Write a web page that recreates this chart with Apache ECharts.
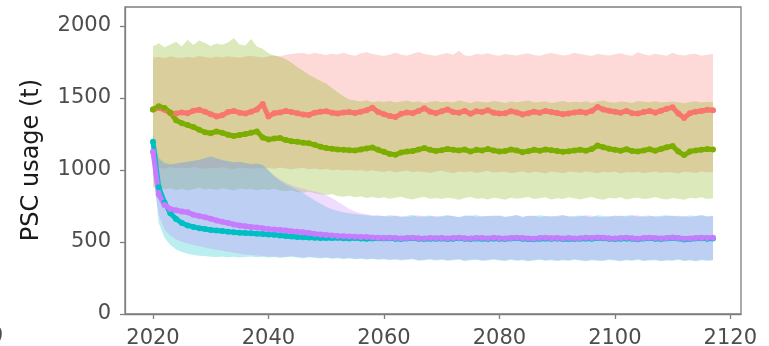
<!DOCTYPE html>
<html>
<head>
<meta charset="utf-8">
<script src="https://cdn.jsdelivr.net/npm/echarts@6/dist/echarts.min.js"></script>
<style>
  html, body { margin: 0; padding: 0; background: #fff; }
  #chart { width: 769px; height: 346px; }
</style>
</head>
<body>
<div id="chart"></div>
<script>
// Simulated PSC usage (t) per year, 2020–2117: mean trajectories and uncertainty bands
const firstYear = 2020;
const nYears = 98;
const years = Array.from({ length: nYears }, (_, i) => firstYear + i);

const xTicks = [2020, 2040, 2060, 2080, 2100, 2120];
const yTicks = [0, 500, 1000, 1500, 2000];

const colors = ['#F8766D', '#7CAE00', '#00BFC4', '#C77CFF'];

const redMean = [
  1420,1432,1418,1395,1392,1400,1395,1412,1418,1405,
  1388,1372,1380,1402,1410,1398,1392,1405,1420,1458,
  1372,1395,1400,1410,1402,1395,1385,1382,1398,1405,
  1408,1398,1392,1400,1402,1396,1405,1415,1432,1402,
  1388,1375,1368,1390,1400,1395,1410,1428,1405,1395,
  1408,1420,1402,1398,1410,1390,1408,1402,1415,1398,
  1392,1395,1408,1400,1386,1395,1405,1398,1410,1402,
  1396,1388,1392,1400,1405,1398,1410,1438,1420,1412,
  1405,1398,1410,1395,1392,1402,1410,1398,1412,1425,
  1435,1392,1362,1395,1405,1410,1418,1415
];
const redUpper = [
  1780,1785,1776,1790,1782,1778,1786,1780,1792,1784,
  1778,1788,1782,1790,1784,1780,1788,1794,1786,1780,
  1790,1796,1788,1800,1806,1810,1812,1802,1814,1806,
  1798,1808,1802,1814,1800,1794,1810,1818,1806,1798,
  1792,1802,1814,1800,1796,1808,1820,1806,1798,1794,
  1804,1812,1800,1828,1796,1792,1808,1802,1810,1798,
  1794,1806,1800,1796,1803,1810,1798,1794,1806,1812,
  1804,1796,1800,1814,1806,1798,1792,1808,1800,1796,
  1804,1810,1798,1794,1818,1804,1796,1808,1800,1794,
  1814,1800,1796,1803,1808,1794,1800,1806
];
const redLower = [
  1010,1015,1008,1020,1012,1018,1010,1022,1014,1008,
  1016,1010,1020,1012,1006,1018,1012,1008,1016,1010,
  1014,1008,1018,1010,1004,1012,1016,1006,1010,1002,
  1008,998,1004,996,1002,994,1000,990,998,992,
  986,994,982,990,996,984,992,986,980,990,
  994,986,978,990,984,992,980,988,994,982,
  986,990,978,984,992,980,988,984,976,990,
  984,978,990,986,980,992,984,978,988,982,
  990,976,986,982,988,978,984,990,980,986,
  982,976,988,984,980,990,984,986
];

const greenMean = [
  1420,1442,1430,1400,1345,1325,1312,1298,1280,1262,
  1255,1268,1258,1245,1236,1243,1250,1258,1268,1225,
  1212,1218,1222,1208,1200,1196,1190,1186,1175,1162,
  1152,1148,1142,1140,1138,1135,1142,1150,1156,1140,
  1126,1112,1106,1122,1128,1132,1142,1152,1140,1132,
  1138,1146,1140,1135,1142,1128,1140,1136,1145,1136,
  1128,1132,1142,1136,1124,1130,1140,1134,1142,1138,
  1132,1126,1130,1136,1140,1134,1145,1170,1158,1148,
  1140,1134,1144,1132,1128,1136,1144,1134,1146,1158,
  1166,1128,1104,1128,1136,1140,1145,1142
];
const greenUpper = [
  1860,1880,1852,1872,1890,1858,1905,1868,1900,1882,
  1862,1878,1870,1885,1915,1872,1864,1910,1858,1842,
  1810,1795,1786,1770,1745,1715,1690,1662,1640,1618,
  1600,1570,1540,1512,1490,1482,1476,1484,1470,1478,
  1472,1480,1468,1475,1482,1470,1478,1466,1474,1480,
  1470,1476,1468,1482,1474,1466,1478,1472,1468,1480,
  1474,1466,1478,1470,1476,1482,1468,1472,1478,1466,
  1472,1480,1468,1474,1470,1478,1466,1476,1482,1470,
  1468,1476,1472,1466,1480,1474,1470,1478,1468,1472,
  1476,1470,1464,1472,1478,1468,1474,1470
];
const greenLower = [
  880,872,866,874,862,870,858,868,876,864,
  870,862,874,866,858,872,864,870,860,868,
  862,870,858,852,860,848,842,850,838,832,
  826,834,820,815,822,810,818,806,812,804,
  810,800,808,814,802,796,808,812,800,806,
  798,808,802,794,806,812,800,804,796,808,
  802,794,808,800,806,812,798,804,810,796,
  804,798,810,802,796,806,812,800,794,808,
  802,810,796,804,808,798,802,812,800,796,
  806,800,794,808,802,810,798,804
];

const cyanMean = [
  1196,880,775,700,660,632,615,605,596,590,
  583,580,576,572,568,565,562,560,558,555,
  552,550,546,542,538,535,533,531,530,528,
  528,527,530,526,524,527,525,522,524,526,
  524,526,523,521,524,526,522,520,523,522,
  524,521,523,526,522,520,524,523,521,525,
  522,520,524,526,523,521,519,523,525,522,
  524,521,523,520,522,525,523,528,526,522,
  520,523,525,522,519,524,526,523,521,524,
  528,524,518,521,524,526,523,525
];
const cyanUpper = [
  1240,1085,1050,1040,1046,1052,1058,1064,1072,1084,
  1095,1082,1070,1062,1054,1058,1048,1042,1046,1036,
  1000,955,925,900,880,860,840,815,790,765,
  745,728,715,706,700,695,690,686,680,684,
  678,686,680,674,682,688,676,680,684,672,
  680,686,678,674,684,680,688,676,682,678,
  684,676,680,688,674,682,678,686,680,676,
  682,688,676,680,684,678,672,686,680,676,
  684,678,682,688,676,680,684,674,682,686,
  678,682,676,684,680,688,678,682
];
const cyanLower = [
  1010,630,530,480,448,430,418,410,405,402,
  398,396,400,394,398,392,396,400,394,398,
  392,396,390,394,398,392,388,394,390,386,
  390,384,388,382,386,380,384,378,382,376,
  380,374,378,372,376,380,370,374,378,372,
  376,370,374,378,368,374,376,370,372,378,
  372,368,376,370,374,366,372,376,370,374,
  368,374,370,376,372,366,374,370,368,376,
  372,366,374,370,376,368,372,374,366,372,
  370,376,368,372,366,374,370,372
];

const purpleMean = [
  1127,830,757,730,720,712,706,690,680,672,
  662,650,640,632,622,615,610,604,600,596,
  590,586,584,580,575,572,568,562,556,552,
  548,545,542,540,538,536,535,534,532,530,
  528,530,527,525,528,530,526,524,527,526,
  528,525,527,530,526,524,528,527,525,529,
  526,524,528,530,527,525,523,527,529,526,
  528,525,527,524,526,529,527,532,530,526,
  524,527,529,526,523,528,530,527,525,528,
  532,528,522,525,528,530,527,529
];
const purpleUpper = [
  1200,1070,1040,1035,1042,1050,1055,1062,1068,1078,
  1090,1078,1066,1058,1050,1055,1045,1038,1042,1032,
  995,962,935,912,895,880,870,860,850,840,
  825,805,780,755,730,712,700,692,686,682,
  680,676,684,678,672,680,686,674,678,682,
  676,684,680,672,678,686,674,680,678,684,
  680,674,678,686,676,680,684,672,678,682,
  676,684,680,674,678,686,682,676,672,680,
  678,684,676,680,686,674,678,682,676,680,
  684,676,680,672,678,684,676,680
];
const purpleLower = [
  960,690,585,545,518,502,490,480,470,462,
  454,446,440,432,426,420,414,410,406,402,
  398,400,394,398,402,396,392,398,394,390,
  394,388,392,386,390,384,388,382,386,380,
  384,378,382,376,380,384,374,378,382,376,
  380,374,378,382,372,378,380,374,376,382,
  376,372,380,374,378,370,376,380,374,378,
  372,378,374,380,376,370,378,374,372,380,
  376,370,378,374,380,372,376,378,370,376,
  374,380,372,376,370,378,374,376
];

const groups = [
  { mean: redMean,    lower: redLower,    upper: redUpper,    color: colors[0] },
  { mean: greenMean,  lower: greenLower,  upper: greenUpper,  color: colors[1] },
  { mean: cyanMean,   lower: cyanLower,   upper: cyanUpper,   color: colors[2] },
  { mean: purpleMean, lower: purpleLower, upper: purpleUpper, color: colors[3] }
];

function withAlpha(hex, a) {
  const n = parseInt(hex.slice(1), 16);
  return 'rgba(' + (n >> 16) + ',' + ((n >> 8) & 255) + ',' + (n & 255) + ',' + a + ')';
}

// Ribbon between lower and upper, drawn as one polygon through the axis scales
function bandSeries(g) {
  return {
    type: 'custom',
    silent: true,
    clip: true,
    z: 1,
    data: years.map((y, i) => [y, g.lower[i], g.upper[i]]),
    encode: { x: 0, y: [1, 2] },
    renderItem: function (params, api) {
      if (params.dataIndex !== 0) return null;
      const pts = [];
      for (let i = 0; i < years.length; i++) pts.push(api.coord([years[i], g.upper[i]]));
      for (let i = years.length - 1; i >= 0; i--) pts.push(api.coord([years[i], g.lower[i]]));
      return { type: 'polygon', shape: { points: pts }, style: { fill: withAlpha(g.color, 0.27) } };
    }
  };
}

function meanSeries(g) {
  return {
    type: 'line',
    z: 3,
    data: years.map((y, i) => [y, g.mean[i]]),
    symbol: 'circle',
    symbolSize: 6,
    showSymbol: true,
    showAllSymbol: true,
    lineStyle: { color: g.color, width: 5 },
    itemStyle: { color: g.color, borderWidth: 0 },
    emphasis: { disabled: true }
  };
}

const font = 'DejaVu Sans';
const axisGrey = '#7f7f7f';
const plain = v => String(v);

const chart = echarts.init(document.getElementById('chart'), null, { renderer: 'canvas' });
chart.setOption({
  animation: false,
  backgroundColor: '#ffffff',
  grid: {
    left: 125, right: 28, top: 7, bottom: 32,
    outerBoundsMode: 'none',
    containLabel: false,
    show: true, borderColor: axisGrey, borderWidth: 1.3, backgroundColor: 'transparent'
  },
  xAxis: {
    type: 'value',
    min: 2015.15, max: 2121.85,
    splitLine: { show: false },
    axisLine: { show: true, lineStyle: { color: axisGrey, width: 1.3 } },
    axisTick: { show: true, length: 5, customValues: xTicks, lineStyle: { color: axisGrey, width: 1.3 } },
    axisLabel: { customValues: xTicks, formatter: plain, color: '#4d4d4d', fontFamily: font, fontSize: 21, margin: 14 }
  },
  yAxis: {
    type: 'value',
    min: 0, max: 2132,
    splitLine: { show: false },
    axisLine: { show: true, lineStyle: { color: axisGrey, width: 1.3 } },
    axisTick: { show: true, length: 5, customValues: yTicks, lineStyle: { color: axisGrey, width: 1.3 } },
    axisLabel: { customValues: yTicks, formatter: plain, color: '#4d4d4d', fontFamily: font, fontSize: 21, margin: 14 }
  },
  graphic: [
    {
      type: 'text', x: 32, y: 160, rotation: Math.PI / 2,
      style: { text: 'PSC usage (t)', fill: '#1a1a1a', font: '24px "DejaVu Sans"', textAlign: 'center', textVerticalAlign: 'middle' }
    },
    {
      type: 'text', x: 3, y: 337,
      style: { text: '0', fill: '#4d4d4d', font: '21px "DejaVu Sans"', textAlign: 'right', textVerticalAlign: 'middle' }
    }
  ],
  series: groups.map(bandSeries).concat(groups.map(meanSeries))
});
</script>
</body>
</html>
